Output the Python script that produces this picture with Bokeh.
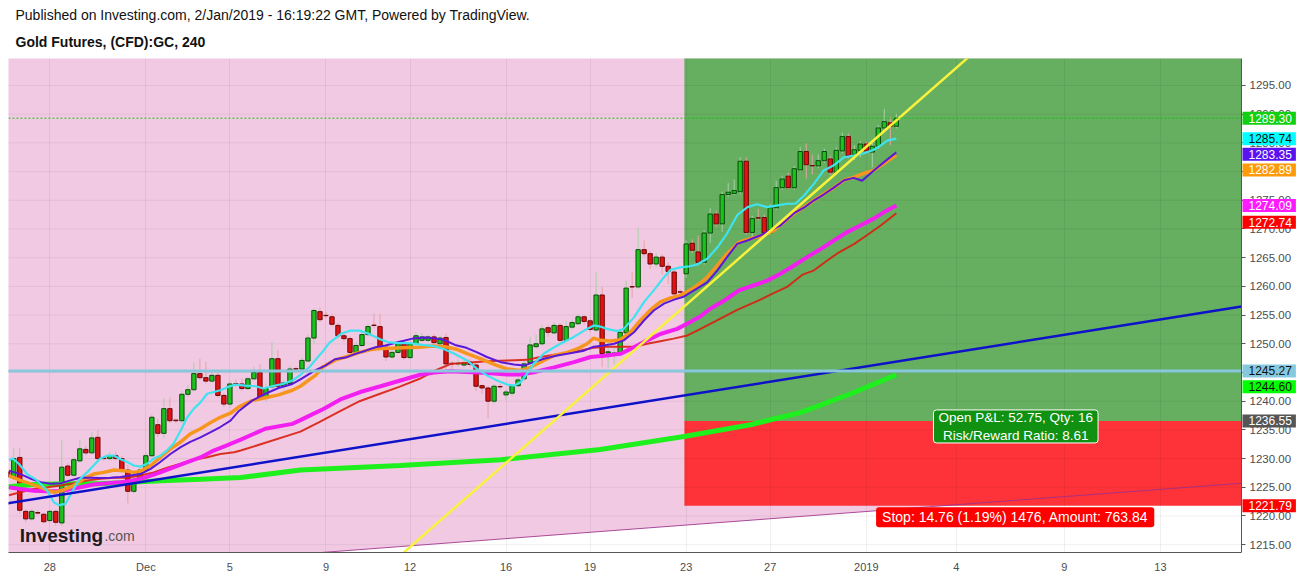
import numpy as np
from bokeh.plotting import figure
from bokeh.models import (Range1d, FixedTicker, PrintfTickFormatter, Label, Title,
                          ColumnDataSource)
from bokeh.embed import file_html
from bokeh.resources import INLINE

FONT = "Liberation Sans"

# ---------------- data (4h bars, index 0 = first visible bar) ----------------
open_ = [1227.7, 1226.7, 1230.2, 1220.8, 1219.5, 1220.6, 1220.3, 1219.2, 1220.8, 1218.8,
         1228.7, 1227.1, 1229.6, 1231.6, 1231.0, 1233.7, 1230.1, 1230.0, 1230.5, 1230.0,
         1228.0, 1224.3, 1226.4, 1228.0, 1230.5, 1235.9, 1234.4, 1238.7, 1236.7, 1236.6,
         1241.2, 1242.0, 1244.8, 1244.1, 1243.5, 1244.5, 1241.0, 1239.5, 1243.05, 1243.0,
         1242.2, 1243.9, 1245.0, 1240.5, 1242.5, 1247.4, 1242.6, 1243.1, 1245.65, 1245.6,
         1247.0, 1251.0, 1255.6, 1254.95, 1254.7, 1253.2, 1251.4, 1250.9, 1248.5, 1249.7,
         1251.6, 1253.25, 1253.0, 1249.4, 1247.7, 1248.5, 1250.0, 1247.6, 1250.0, 1250.6,
         1250.6, 1251.2, 1250.0, 1251.1, 1246.6, 1246.5, 1246.3, 1246.8, 1246.3, 1242.7,
         1242.3, 1240.0, 1242.55, 1241.1, 1241.4, 1242.7, 1243.9, 1246.7, 1249.5, 1250.0,
         1252.8, 1251.9, 1253.2, 1250.6, 1252.9, 1253.5, 1254.7, 1254.0, 1252.4, 1258.5,
         1248.4, 1248.3, 1248.3, 1251.9, 1259.95, 1259.9, 1266.4, 1265.7, 1263.9, 1265.1,
         1263.5, 1262.5, 1259.05, 1262.2, 1267.5, 1266.0, 1264.2, 1269.3, 1272.6, 1270.9,
         1276.0, 1276.2, 1276.5, 1281.8, 1269.4, 1271.95, 1272.0, 1269.3, 1273.7, 1277.2,
         1279.2, 1277.2, 1280.3, 1283.5, 1281.05, 1281.0, 1281.9, 1282.2, 1279.9, 1283.6,
         1286.1, 1283.0, 1283.7, 1284.8, 1283.4, 1284.4, 1287.6, 1288.5, 1287.9]
close_ = [1226.8, 1230.0, 1221.0, 1219.5, 1220.8, 1220.5, 1219.0, 1220.8, 1218.9, 1228.5,
          1227.1, 1229.8, 1231.7, 1231.0, 1233.6, 1230.0, 1230.0, 1230.5, 1230.0, 1228.0,
          1224.3, 1226.4, 1228.0, 1230.5, 1237.2, 1234.4, 1238.7, 1236.6, 1236.6, 1241.2,
          1242.0, 1244.8, 1244.1, 1243.5, 1244.5, 1241.0, 1239.5, 1243.0, 1243.0, 1242.2,
          1243.9, 1245.0, 1240.7, 1242.2, 1247.4, 1242.6, 1243.2, 1245.6, 1245.6, 1247.1,
          1251.0, 1255.8, 1254.2, 1254.9, 1253.4, 1251.4, 1250.9, 1248.5, 1249.7, 1251.6,
          1253.0, 1253.2, 1249.4, 1247.7, 1248.5, 1250.0, 1247.6, 1250.0, 1251.4, 1251.2,
          1251.2, 1250.2, 1251.0, 1246.5, 1246.5, 1246.6, 1246.7, 1246.4, 1242.6, 1242.3,
          1240.0, 1242.6, 1242.5, 1241.6, 1242.7, 1243.7, 1246.5, 1249.8, 1250.0, 1252.6,
          1252.0, 1253.2, 1250.6, 1253.0, 1253.7, 1254.7, 1253.9, 1252.5, 1258.5, 1248.3,
          1248.6, 1248.4, 1252.0, 1259.7, 1259.9, 1266.4, 1265.7, 1263.9, 1265.1, 1263.5,
          1262.6, 1258.7, 1259.0, 1267.4, 1266.3, 1264.2, 1269.3, 1272.6, 1270.9, 1276.0,
          1276.4, 1276.7, 1281.8, 1269.4, 1271.8, 1271.9, 1269.3, 1273.7, 1277.2, 1278.7,
          1277.2, 1280.5, 1283.5, 1281.2, 1281.0, 1281.9, 1283.5, 1279.9, 1283.7, 1286.1,
          1282.8, 1283.8, 1284.8, 1283.6, 1284.4, 1287.6, 1288.7, 1287.9, 1289.3]
high_ = [1228.3, 1231.8, 1231.9, 1221.2, 1221.2, 1221.0, 1220.6, 1221.1, 1221.1, 1233.2,
         1229.2, 1230.3, 1233.3, 1232.2, 1234.6, 1234.9, 1230.5, 1231.1, 1231.2, 1230.5,
         1228.9, 1227.0, 1228.4, 1231.0, 1237.7, 1236.9, 1240.5, 1240.6, 1237.0, 1241.8,
         1242.8, 1246.8, 1247.4, 1246.9, 1245.0, 1245.0, 1241.4, 1243.6, 1243.8, 1244.0,
         1244.3, 1246.0, 1246.4, 1243.1, 1250.3, 1248.9, 1243.7, 1246.2, 1246.0, 1247.6,
         1251.6, 1256.2, 1256.3, 1255.5, 1255.2, 1253.7, 1252.0, 1251.3, 1250.3, 1252.2,
         1253.5, 1255.3, 1255.2, 1249.9, 1249.0, 1250.5, 1250.4, 1250.4, 1252.0, 1251.9,
         1251.6, 1251.7, 1251.5, 1251.8, 1247.0, 1247.3, 1247.6, 1247.4, 1246.8, 1243.0,
         1242.7, 1243.0, 1243.0, 1242.0, 1243.0, 1244.2, 1247.0, 1251.2, 1251.6, 1253.2,
         1253.3, 1253.8, 1253.6, 1253.9, 1254.2, 1255.2, 1255.0, 1254.4, 1262.5, 1259.9,
         1250.2, 1249.3, 1252.5, 1261.0, 1262.5, 1270.3, 1268.0, 1266.2, 1265.8, 1265.6,
         1264.2, 1263.0, 1259.5, 1268.0, 1268.2, 1268.9, 1269.8, 1273.6, 1273.2, 1276.5,
         1278.0, 1278.6, 1282.5, 1282.5, 1272.3, 1273.5, 1272.5, 1274.3, 1278.4, 1279.3,
         1279.8, 1281.0, 1284.3, 1284.9, 1283.0, 1283.0, 1284.0, 1282.7, 1284.2, 1286.8,
         1286.7, 1284.6, 1285.3, 1285.2, 1285.0, 1288.1, 1290.9, 1289.5, 1290.1]
low_ = [1226.4, 1226.2, 1220.4, 1218.9, 1219.2, 1220.2, 1218.7, 1218.9, 1218.3, 1218.3,
        1226.8, 1226.9, 1229.3, 1230.6, 1230.8, 1229.6, 1229.6, 1229.7, 1229.7, 1227.6,
        1222.2, 1223.9, 1226.1, 1227.7, 1230.2, 1233.8, 1233.6, 1236.2, 1236.2, 1236.1,
        1240.7, 1241.7, 1243.7, 1243.1, 1243.2, 1240.6, 1239.0, 1238.8, 1242.4, 1241.8,
        1241.9, 1243.6, 1240.1, 1239.9, 1242.1, 1242.2, 1242.0, 1242.8, 1245.2, 1245.2,
        1246.8, 1250.0, 1253.8, 1254.5, 1253.0, 1250.9, 1250.4, 1248.0, 1248.0, 1249.4,
        1251.3, 1252.8, 1248.9, 1247.0, 1247.4, 1248.2, 1247.2, 1247.3, 1249.7, 1250.3,
        1250.3, 1249.8, 1249.7, 1245.6, 1245.5, 1246.0, 1245.9, 1245.9, 1241.8, 1241.3,
        1237.0, 1239.6, 1242.0, 1240.2, 1240.9, 1242.4, 1243.6, 1246.4, 1249.2, 1249.7,
        1251.2, 1251.6, 1250.0, 1250.3, 1252.5, 1253.2, 1253.4, 1252.0, 1252.0, 1245.9,
        1245.8, 1246.5, 1247.8, 1251.5, 1258.0, 1259.5, 1265.2, 1263.0, 1263.3, 1262.0,
        1260.4, 1258.0, 1258.5, 1261.5, 1265.8, 1263.6, 1263.8, 1267.6, 1270.4, 1269.5,
        1275.6, 1275.9, 1276.0, 1269.0, 1268.6, 1271.5, 1268.9, 1269.0, 1273.3, 1276.8,
        1276.9, 1276.9, 1280.0, 1278.8, 1279.5, 1280.6, 1281.5, 1279.4, 1279.5, 1283.2,
        1282.3, 1282.0, 1282.5, 1283.1, 1280.7, 1284.0, 1287.2, 1284.6, 1287.5]

# moving averages (bar position, price)
cyan_x = [0.2, 0.85, 1.84, 3.23, 4.9, 6.56, 7.67, 8.5, 9.6, 10.7, 11.8, 13.2, 14.3, 15.4, 16.6, 17.7,
          18.8, 19.9, 21.0, 22.1, 23.2, 24.3, 25.4, 26.5, 27.6, 28.8, 29.9, 31.0, 32.1, 33.2, 34.3,
          35.4, 36.5, 37.9, 39.6, 41.3, 42.6, 44.0, 45.7, 47.4, 48.75, 50.3, 51.5, 52.5, 53.6, 54.6,
          55.6, 57.1, 58.6, 60.0, 61.0, 62.0, 63.3, 65.0, 67.0, 69.0, 71.0, 72.6, 74.3, 76.5, 78.2,
          79.8, 81.5, 83.2, 84.3, 85.4, 86.5, 87.6, 89.3, 91.0, 92.6, 94.3, 96.0, 97.6, 98.7, 99.8,
          101.5, 102.6, 104.3, 106.0, 107.6, 109.3, 110.4, 112.05, 113.5, 114.8, 116.5, 118.2, 119.8,
          121.5, 123.2, 124.8, 126.5, 128.2, 129.8, 131.2, 132.6, 134.3, 135.9, 137.6, 139.3, 140.9,
          142.6, 144.25, 145.4, 146.5, 148.0]
cyan_y = [1229.7, 1230.0, 1229.1, 1227.3, 1226.2, 1224.4, 1222.4, 1221.9, 1222.1, 1224.2, 1226.2,
          1227.6, 1228.8, 1230.0, 1230.5, 1230.5, 1229.9, 1229.4, 1228.8, 1228.6, 1229.1, 1230.0,
          1230.5, 1231.4, 1232.6, 1234.9, 1237.2, 1238.7, 1239.8, 1241.3, 1241.6, 1241.9, 1242.4,
          1242.9, 1242.7, 1242.6, 1242.2, 1242.6, 1243.0, 1243.6, 1244.6, 1246.0, 1247.5, 1248.7,
          1250.2, 1251.0, 1251.8, 1252.3, 1252.3, 1251.8, 1251.3, 1250.8, 1250.3, 1250.1, 1250.1,
          1249.8, 1249.6, 1249.1, 1248.3, 1247.1, 1245.6, 1244.5, 1243.6, 1242.9, 1242.7, 1243.3,
          1244.8, 1246.5, 1248.3, 1249.4, 1250.3, 1251.2, 1252.3, 1253.2, 1253.0, 1252.6, 1252.2,
          1252.6, 1254.6, 1257.3, 1259.3, 1261.6, 1262.9, 1263.3, 1263.5, 1263.8, 1264.8, 1266.8,
          1269.2, 1272.4, 1273.8, 1274.3, 1273.8, 1274.1, 1274.4, 1274.4, 1275.8, 1277.9, 1280.2,
          1281.1, 1282.5, 1282.8, 1283.2, 1283.8, 1284.55, 1285.4, 1285.74]

purple_x = [0.18, 2.1, 3.8, 5.5, 7.1, 8.8, 10.45, 12.1, 13.8, 15.45, 17.1, 18.8, 20.4, 22.1, 23.8,
            25.4, 27.1, 28.8, 30.4, 32.1, 33.8, 35.4, 37.1, 38.5, 40.7, 42.9, 45.1, 47.4, 48.75, 51.25,
            52.9, 54.5, 56.25, 57.9, 59.6, 61.25, 62.9, 65.1, 67.4, 69.6, 71.4, 72.6, 74.5, 76.4, 78.2,
            79.8, 82.1, 84.3, 86.0, 87.6, 89.3, 91.5, 93.2, 96.0, 97.6, 99.3, 101.0, 102.6, 104.3,
            106.0, 107.6, 109.3, 111.0, 112.6, 114.3, 116.5, 118.2, 119.8, 121.5, 123.2, 125.4, 127.0,
            128.7, 130.9, 132.6, 134.3, 135.9, 137.6, 139.3, 140.9, 142.3, 144.25, 145.9, 148.0]
purple_y = [1227.9, 1227.3, 1226.5, 1225.9, 1225.6, 1225.7, 1226.2, 1226.65, 1226.65, 1226.6,
            1226.65, 1226.8, 1227.05, 1227.3, 1228.2, 1229.4, 1230.8, 1232.0, 1232.9, 1233.7,
            1234.6, 1235.5, 1236.6, 1238.3, 1240.1, 1241.3, 1242.3, 1243.0, 1243.8, 1245.4, 1246.2,
            1247.3, 1247.6, 1248.25, 1248.8, 1249.4, 1249.7, 1250.3, 1250.9, 1251.1, 1250.9, 1250.7,
            1249.8, 1249.3, 1248.5, 1247.7, 1246.8, 1246.4, 1246.2, 1246.8, 1247.4, 1247.96, 1248.25,
            1248.8, 1249.5, 1249.7, 1250.0, 1250.6, 1252.0, 1254.1, 1255.8, 1257.0, 1257.7, 1258.2,
            1259.3, 1260.7, 1262.8, 1265.1, 1267.4, 1268.0, 1268.9, 1269.8, 1270.6, 1272.7, 1273.7,
            1275.0, 1276.0, 1277.2, 1278.5, 1278.9, 1278.4, 1280.2, 1281.6, 1283.35]

orange_x = [0.18, 2.1, 3.8, 5.5, 7.1, 7.95, 9.3, 11.0, 12.7, 14.3, 16.0, 17.7, 19.3, 21.0, 22.1, 23.8,
            25.4, 27.1, 28.8, 30.4, 32.1, 33.8, 35.4, 37.1, 38.5, 40.7, 42.9, 45.1, 47.4, 48.75, 50.3,
            51.25, 52.5, 54.6, 56.25, 58.6, 60.5, 62.5, 64.7, 66.8, 68.5, 70.8, 72.8, 74.9, 76.5, 78.7,
            81.0, 83.2, 85.4, 87.1, 88.7, 91.0, 93.2, 94.8, 96.5, 97.6, 98.7, 100.4, 102.05, 103.7,
            105.4, 107.05, 108.7, 110.4, 112.05, 113.7, 115.4, 116.5, 118.2, 119.8, 121.8, 123.7, 125.9,
            127.6, 129.3, 130.9, 132.6, 134.3, 135.9, 137.6, 139.3, 140.9, 142.6, 144.25, 145.9, 148.0]
orange_y = [1227.05, 1226.2, 1225.6, 1225.0, 1224.3, 1224.15, 1224.55, 1225.3, 1226.5, 1227.3,
            1227.6, 1228.0, 1227.9, 1227.6, 1227.8, 1228.8, 1230.2, 1231.7, 1232.9, 1234.3, 1235.2,
            1236.3, 1237.2, 1237.9, 1239.0, 1240.1, 1240.6, 1241.1, 1241.9, 1242.6, 1243.8, 1244.5,
            1246.0, 1247.2, 1247.7, 1248.5, 1249.0, 1249.2, 1249.25, 1249.35, 1249.4, 1249.6, 1249.5,
            1249.0, 1248.3, 1247.4, 1246.4, 1245.6, 1245.35, 1245.9, 1246.8, 1247.96, 1248.5, 1249.1,
            1250.0, 1251.0, 1250.6, 1250.5, 1250.7, 1252.0, 1254.1, 1255.9, 1257.3, 1258.0, 1258.4,
            1259.4, 1260.6, 1261.6, 1263.65, 1265.7, 1267.7, 1268.3, 1268.9, 1269.75, 1271.2, 1272.65,
            1273.8, 1275.0, 1276.1, 1277.2, 1278.5, 1279.0, 1279.7, 1280.2, 1281.4, 1282.89]

magenta_x = [0.18, 2.1, 4.3, 6.6, 8.2, 9.9, 12.1, 14.3, 16.6, 18.8, 21.0, 23.2, 25.4, 27.7, 29.9, 32.1,
             34.3, 36.5, 38.8, 42.9, 47.4, 48.75, 50.7, 52.5, 55.4, 58.7, 62.1, 65.4, 68.7, 71.0, 73.7,
             76.5, 79.8, 83.2, 85.4, 87.6, 91.0, 94.3, 97.1, 99.8, 102.05, 104.3, 106.5, 108.7, 111.5,
             113.7, 115.4, 117.0, 119.3, 121.8, 124.3, 126.5, 128.7, 130.9, 133.15, 135.4, 137.6,
             139.8, 142.0, 144.25, 145.9, 148.0]
magenta_y = [1225.0, 1224.7, 1224.4, 1224.3, 1224.3, 1224.55, 1225.0, 1225.5, 1225.7, 1225.9,
             1226.2, 1226.8, 1227.6, 1228.5, 1229.4, 1230.2, 1231.4, 1232.3, 1233.3, 1235.2, 1236.05,
             1236.7, 1237.7, 1238.6, 1240.3, 1241.6, 1242.6, 1243.6, 1244.6, 1245.0, 1245.2, 1245.1,
             1244.9, 1244.65, 1244.65, 1245.05, 1245.9, 1246.8, 1247.7, 1247.96, 1248.25, 1249.4,
             1250.6, 1251.7, 1252.6, 1253.8, 1254.8, 1256.1, 1257.5, 1259.3, 1260.2, 1261.0, 1262.2,
             1263.6, 1265.1, 1266.5, 1268.0, 1269.45, 1270.6, 1271.8, 1272.9, 1274.09]

red_x = [0.18, 2.1, 4.3, 6.6, 8.8, 11.0, 13.2, 15.45, 17.7, 19.9, 22.1, 24.3, 26.55, 28.8, 31.0, 33.2,
         35.4, 37.7, 38.8, 48.75, 51.8, 55.2, 58.6, 62.0, 65.2, 68.6, 71.1, 73.8, 76.4, 79.8, 83.2,
         86.5, 88.7, 92.1, 95.4, 97.6, 99.8, 102.05, 104.3, 106.5, 108.7, 110.9, 113.2, 115.4, 121.5,
         125.1, 127.3, 129.8, 132.3, 134.3, 136.5, 138.4, 141.0, 143.1, 145.4, 148.0]
red_y = [1223.6, 1224.15, 1224.7, 1225.0, 1225.3, 1225.7, 1226.2, 1226.5, 1226.65, 1226.65, 1227.05,
         1227.6, 1228.4, 1229.1, 1229.8, 1230.25, 1230.8, 1231.1, 1231.4, 1234.7, 1236.3, 1238.2,
         1240.0, 1241.3, 1242.5, 1243.9, 1245.3, 1246.5, 1246.7, 1246.97, 1247.1, 1247.2, 1247.7,
         1248.25, 1248.85, 1249.3, 1249.5, 1249.5, 1249.5, 1250.0, 1250.45, 1250.9, 1251.45, 1252.6,
         1255.9, 1257.55, 1258.7, 1259.9, 1262.0, 1262.8, 1264.5, 1265.9, 1267.4, 1268.9, 1270.6,
         1272.74]

green_x = [0.1, 4.3, 9.9, 15.4, 21.0, 26.55, 32.1, 38.8, 48.8, 65.4, 82.1, 98.7, 112.9, 123.7,
           132.0, 140.4, 148.0]
green_y = [1225.1, 1225.5, 1225.6, 1225.6, 1225.9, 1226.2, 1226.4, 1226.7, 1228.0, 1228.8, 1229.8,
           1231.6, 1233.9, 1235.9, 1238.0, 1241.3, 1244.6]

# drawings
blue_trend_x = [0.0, 205.5]
blue_trend_y = [1222.2, 1256.5]
yellow_trend_x = [81.5, 115.4]
yellow_trend_y = [1227.9, 1259.0]
channel_x = [51.75, 205.5]
channel_y = [1213.6, 1225.7]
hline_price = 1245.27
last_price = 1289.30
pos_start = 112.7
pos_entry = 1236.55
pos_stop = 1221.79
pos_target = 1363.64

# axis ticks
x_ticks = [7, 23, 37, 53, 67, 83, 97, 113, 127, 143, 158, 176, 192]
x_labels = ["28", "Dec", "5", "9", "12", "16", "19", "23", "27", "2019", "4", "9", "13"]
y_ticks = [1215, 1220, 1225, 1230, 1235, 1240, 1245, 1250, 1255, 1260, 1265, 1270, 1275, 1280,
           1285, 1290, 1295]

# price-scale badges
badge_values = [1289.30, 1285.74, 1283.35, 1282.89, 1274.09, 1272.74, 1245.27, 1244.60, 1236.55, 1221.79]
badge_bg = ["#13cf13", "#00ffff", "#5a12f0", "#ff9a0a", "#ff1aff", "#ff0000", "#86c9df", "#00ff00",
            "#555555", "#ff0000"]
badge_fg = ["white", "#111111", "white", "white", "white", "white", "#111111", "#111111", "white", "white"]
badge_shift = [0, 0, -2, -15, 0, -9, 0, -12, 0, 0]

# view: bars 0.12 .. 205.5 are the chart pane, the rest is the price scale
X_LO, X_AXIS, X_FULL = 0.12, 205.5, 215.16
Y_LO, Y_HI = 1213.64, 1299.7

# ---------------- figure ----------------
p = figure(width=1299, height=581, output_backend="svg", toolbar_location=None,
           x_range=Range1d(X_LO, X_FULL), y_range=Range1d(Y_LO, Y_HI),
           y_axis_location="right", title=None,
           min_border_left=8, min_border_right=0, min_border_top=58, min_border_bottom=29,
           background_fill_color="white", border_fill_color="white", outline_line_color=None)

# pink channel background
ch_slope = (channel_y[1] - channel_y[0]) / (channel_x[1] - channel_x[0])
ext_x = [X_LO - 10, X_AXIS]
ext_y = [channel_y[0] + ch_slope * (xx - channel_x[0]) for xx in ext_x]
p.patch([ext_x[0], ext_x[1], ext_x[1], ext_x[0]], [ext_y[0], ext_y[1], Y_HI + 50, Y_HI + 50],
        fill_color="#f2c9e3", line_color=None, level="image")

# long position tool
p.quad(left=[pos_start], right=[X_AXIS], bottom=[pos_entry], top=[pos_target],
       fill_color="#66ae60", line_color=None, level="image")
p.quad(left=[pos_start], right=[X_AXIS], bottom=[pos_stop], top=[pos_entry],
       fill_color="#fd3339", line_color=None, level="image")

# grid
p.xgrid.ticker = FixedTicker(ticks=x_ticks)
p.xgrid.grid_line_color = "black"
p.xgrid.grid_line_alpha = 0.06
p.ygrid.visible = False
p.segment(x0=[X_LO - 1] * len(y_ticks), x1=[X_AXIS] * len(y_ticks), y0=y_ticks, y1=y_ticks,
          line_color="black", line_alpha=0.06, line_width=1, level="underlay")

# channel bottom line
p.line(ext_x, ext_y, line_color="#9b2f8a", line_width=1, line_alpha=0.85)

# candles
idx = np.arange(len(close_))
o = np.array(open_); c = np.array(close_); hh = np.array(high_); ll = np.array(low_)
up = c >= o
src = ColumnDataSource(dict(
    x=idx, top=np.maximum(o, c), bottom=np.minimum(o, c), high=hh, low=ll,
    fill=np.where(up, "#1cc21c", "#e01212"),
    edge=np.where(up, "#0b4a0b", "#6a0707"),
    wick=np.where(up, "#a6d0a6", "#e6a3a6"),
))
p.segment(x0="x", y0="low", x1="x", y1="high", line_color="wick", line_width=1, source=src)
p.vbar(x="x", width=0.72, top="top", bottom="bottom", fill_color="fill", line_color="edge",
       line_width=1, source=src)

# moving averages
p.line(green_x, green_y, line_color="#1ef01e", line_width=5)
p.line(red_x, red_y, line_color="#d8200f", line_width=2, line_alpha=0.9)
p.line(magenta_x, magenta_y, line_color="#f21ff0", line_width=4)
p.line(orange_x, orange_y, line_color="#f7961e", line_width=3.5)
p.line(purple_x, purple_y, line_color="#5a18d8", line_width=2)
p.line(cyan_x, cyan_y, line_color="#3fe2ef", line_width=2.2)

# trend lines
b_slope = (blue_trend_y[1] - blue_trend_y[0]) / (blue_trend_x[1] - blue_trend_x[0])
p.line(ext_x, [blue_trend_y[0] + b_slope * (xx - blue_trend_x[0]) for xx in ext_x],
       line_color="#0e12c8", line_width=2.5)
y_slope = (yellow_trend_y[1] - yellow_trend_y[0]) / (yellow_trend_x[1] - yellow_trend_x[0])
p.line(ext_x, [yellow_trend_y[0] + y_slope * (xx - yellow_trend_x[0]) for xx in ext_x],
       line_color="#f8f23c", line_width=2.5)

# horizontal lines
p.segment(x0=[ext_x[0]], x1=[X_AXIS], y0=[hline_price], y1=[hline_price],
          line_color="#88c7dc", line_width=3)
p.segment(x0=[ext_x[0]], x1=[X_AXIS], y0=[last_price], y1=[last_price],
          line_color="#11c811", line_width=1, line_dash="2 2")

# price axis, pinned to the pane edge
ax = p.yaxis[0]
ax.fixed_location = X_AXIS
ax.ticker = FixedTicker(ticks=y_ticks)
ax.formatter = PrintfTickFormatter(format="%.2f")
ax.major_label_text_font = FONT
ax.major_label_text_font_size = "11.5px"
ax.major_label_text_color = "#4d4d4d"
ax.axis_line_color = "#555555"
ax.major_tick_line_color = "#555555"
ax.major_tick_out = 4
ax.major_tick_in = 0
ax.minor_tick_out = 0
ax.minor_tick_in = 0
ax.major_label_standoff = 4

bx = p.xaxis[0]
bx.bounds = (X_LO, X_AXIS)
bx.ticker = FixedTicker(ticks=x_ticks)
bx.major_label_overrides = {t: lab for t, lab in zip(x_ticks, x_labels)}
bx.major_label_text_font = FONT
bx.major_label_text_font_size = "11px"
bx.major_label_text_color = "#4d4d4d"
bx.axis_line_color = "#555555"
bx.major_tick_out = 0
bx.major_tick_in = 0
bx.minor_tick_out = 0
bx.minor_tick_in = 0
bx.major_label_standoff = 8

# price badges on the right scale
for v, bg, fg, sh in zip(badge_values, badge_bg, badge_fg, badge_shift):
    p.add_layout(Label(x=X_AXIS, y=v, x_offset=1, y_offset=sh, text=f"{v:.2f}", text_align="left",
                       text_baseline="middle", text_font=FONT, text_font_size="12px",
                       text_color=fg, background_fill_color=bg,
                       padding=dict(left=6, right=4, top=2, bottom=2)))

# position tool labels
p.add_layout(Label(x=167.9, y=1235.6, text="Open P&L: 52.75, Qty: 16\nRisk/Reward Ratio: 8.61",
                   text_align="center", text_baseline="middle", text_font=FONT,
                   text_font_size="13.5px", text_color="white", background_fill_color="#119111",
                   border_line_color="white", border_line_width=1, border_radius=3,
                   padding=dict(left=5, right=5, top=0, bottom=0)))
p.add_layout(Label(x=167.8, y=1219.8, text="Stop: 14.76 (1.19%) 1476, Amount: 763.84",
                   text_align="center", text_baseline="middle", text_font=FONT,
                   text_font_size="14px", text_color="white", background_fill_color="#ff0000",
                   border_radius=3, padding=dict(left=6, right=6, top=2, bottom=2)))

# watermark
p.add_layout(Label(x=2.0, y=1216.6, text="Investing", text_baseline="alphabetic",
                   text_font=FONT, text_font_size="19px", text_font_style="bold",
                   text_color="#1a1a1a"))
p.add_layout(Label(x=16.1, y=1216.6, text=".com", text_baseline="alphabetic",
                   text_font=FONT, text_font_size="14px", text_color="#555555"))

# header
p.add_layout(Title(text="Gold Futures, (CFD):GC, 240", text_font=FONT, text_font_size="14px",
                   text_font_style="bold", text_color="#111111", align="left", offset=7,
                   standoff=18), "above")
p.add_layout(Title(text="Published on Investing.com, 2/Jan/2019 - 16:19:22 GMT, Powered by TradingView.",
                   text_font=FONT, text_font_size="14px", text_font_style="normal",
                   text_color="#111111", align="left", offset=7, standoff=0), "above")

open("out.html", "w").write(file_html(p, INLINE))
